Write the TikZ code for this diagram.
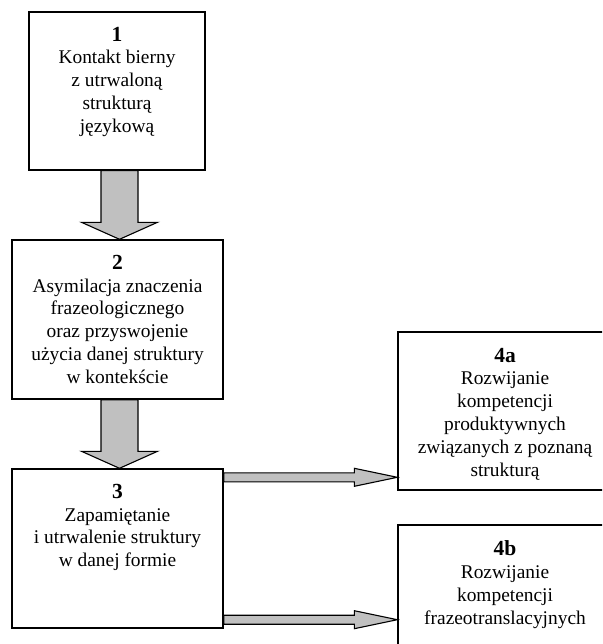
\documentclass[tikz,border=0pt]{standalone}
\usepackage{fontspec}
\setmainfont{Liberation Serif}
\usetikzlibrary{calc,positioning}
\definecolor{arrowgray}{RGB}{192,192,192}
\tikzset{
  stage/.style={draw, line width=1.4pt, fill=white, inner sep=0pt},
  stagetext/.style={anchor=north, align=center, inner sep=0pt,
    font=\fontsize{19.4}{22.8}\selectfont},
  blockarrow/.style={draw, line width=1.1pt, fill=arrowgray, line join=miter},
}
\newcommand{\stagenr}[1]{{\fontsize{21.5}{22.8}\selectfont\bfseries #1}}

\begin{document}
\begin{tikzpicture}[x=1pt,y=-1pt]
\useasboundingbox (0,0) rectangle (602,644);
\clip (0,0) rectangle (602,644);

% the stages
\node[stage, minimum width=176pt, minimum height=158pt] (box1) at (117,91) {};
\node[stage, minimum width=211pt, minimum height=159pt] (box2) at (117.5,319.5) {};
\node[stage, minimum width=211pt, minimum height=159pt] (box3) at (117.5,548.5) {};
\node[stage, minimum width=214pt, minimum height=158pt] (box4a) at (505,411) {};
\node[stage, minimum width=214pt, minimum height=158pt] (box4b) at (505,604) {};

\node[stagetext] (txt1) at ($(box1.north)+(0,15.5)$)
  {\stagenr{1}\\Kontakt bierny\\z utrwaloną\\strukturą\\językową};
\node[stagetext] (txt2) at ($(box2.north)+(0,15.5)$)
  {\stagenr{2}\\Asymilacja znaczenia\\frazeologicznego\\oraz przyswojenie\\użycia danej struktury\\w kontekście};
\node[stagetext] (txt3) at ($(box3.north)+(0,15.5)$)
  {\stagenr{3}\\Zapamiętanie\\i utrwalenie struktury\\w danej formie};
\node[stagetext] (txt4a) at ($(box4a.north)+(0,16.5)$)
  {\stagenr{4a}\\Rozwijanie\\kompetencji\\produktywnych\\związanych z poznaną\\strukturą};
\node[stagetext] (txt4b) at ($(box4b.north)+(0,16.5)$)
  {\stagenr{4b}\\Rozwijanie\\kompetencji\\frazeotranslacyjnych};

% vertical block arrows 1 -> 2 -> 3
\foreach \from/\to in {box1/box2, box2/box3}{
  \coordinate (tip) at ($(\to.north)+(2,0)$);
  \coordinate (root) at (tip |- \from.south);
  \draw[blockarrow] ($(root)+(-18.5,0)$) -- ($(tip)+(-18.5,-17)$) -- ($(tip)+(-38,-17)$)
    -- (tip) -- ($(tip)+(38,-17)$) -- ($(tip)+(18.5,-17)$) -- ($(root)+(18.5,0)$) -- cycle;
}

% horizontal block arrows 3 -> 4a, 3 -> 4b
\foreach \corner/\dy/\to in {north east/9/box4a, south east/-9/box4b}{
  \coordinate (root) at ($(box3.\corner)+(0,\dy)$);
  \coordinate (tip) at (\to.west |- root);
  \draw[blockarrow] ($(root)+(0,-4.5)$) -- ($(tip)+(-43,-4.5)$) -- ($(tip)+(-43,-9)$)
    -- (tip) -- ($(tip)+(-43,9)$) -- ($(tip)+(-43,4.5)$) -- ($(root)+(0,4.5)$) -- cycle;
}
\end{tikzpicture}
\end{document}
